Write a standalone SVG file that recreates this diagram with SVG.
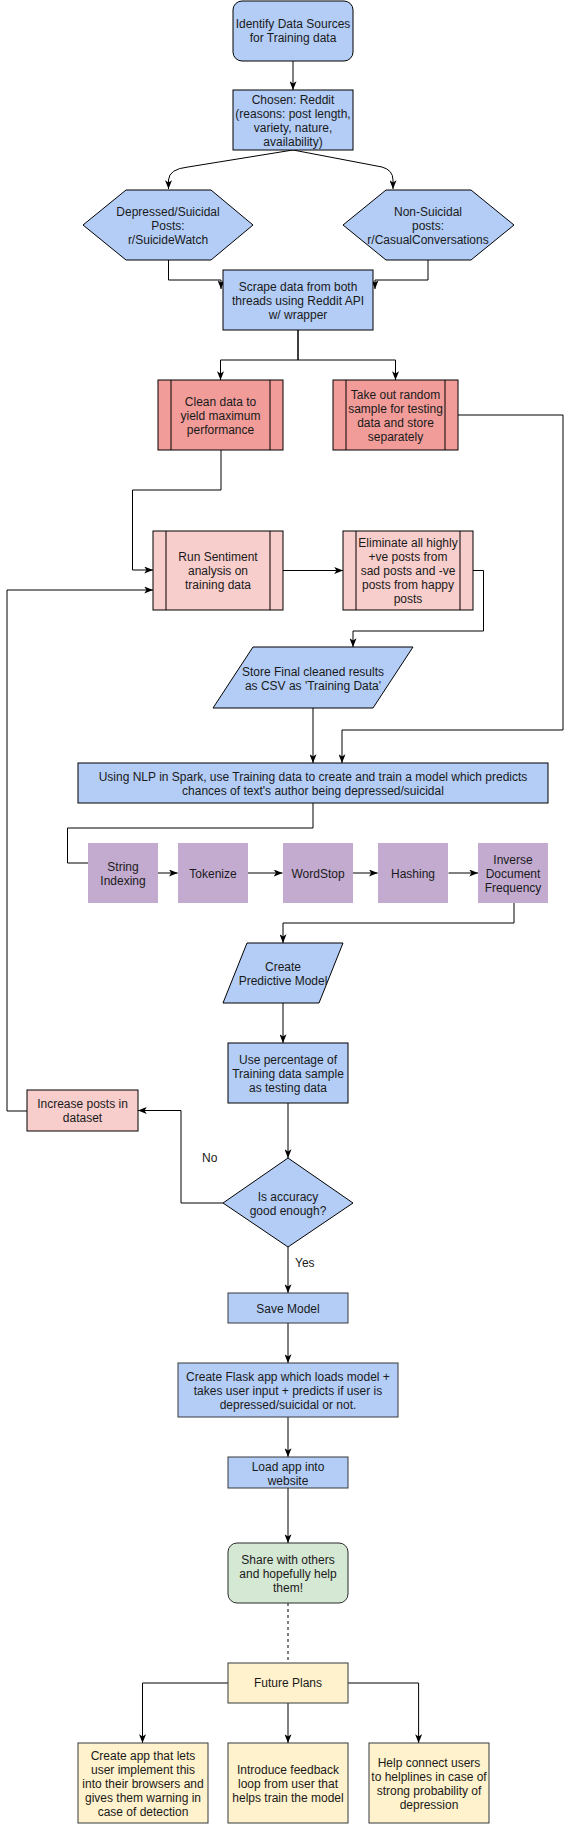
<svg xmlns="http://www.w3.org/2000/svg" width="571" height="1824" viewBox="0 0 571 1824">
<style>
text{font-family:"Liberation Sans",Arial,Helvetica,sans-serif;font-size:12px;fill:#1a1a1a;text-anchor:middle}
.lbl{text-anchor:start}
.blue{fill:#B3CDF7;stroke:#000;stroke-width:1}
.red{fill:#F19C99;stroke:#000;stroke-width:1}
.pink{fill:#F8CECC;stroke:#000;stroke-width:1}
.purple{fill:#C3ABD0;stroke:none}
.green{fill:#D5E8D4;stroke:#2b2b2b;stroke-width:1}
.yellow{fill:#FFF2CC;stroke:#36393d;stroke-width:1}
.grey{stroke:#36393d}
.e{fill:none;stroke:#000;stroke-width:1}
.a{marker-end:url(#arr)}
.dash{stroke-dasharray:3,3}
</style>
<defs>
<marker id="arr" markerUnits="userSpaceOnUse" viewBox="0 0 10 8" refX="10" refY="4" markerWidth="9" markerHeight="7" orient="auto">
<path d="M0,0 L10,4 L0,8 L2.5,4 Z" fill="#000"/>
</marker>
</defs>
<rect width="571" height="1824" fill="#fff"/>
<g id="connectors">
<path class="e a" d="M293,61 V90"/>
<path class="e a" d="M293,150 L188,167 Q169,169 168.5,180 V189"/>
<path class="e a" d="M293,150 L382,167 Q393,170 393,180 V189"/>
<path class="e a" d="M168.5,260 V280 H221 V289"/>
<path class="e a" d="M428,260 V280 H375 V289"/>
<path class="e a" d="M298,330 V360 H220.5 V380"/>
<path class="e a" d="M298,330 V360 H395.5 V380"/>
<path class="e a" d="M458,415 H563 V730 H342 V763"/>
<path class="e a" d="M221,450 V490 H132.5 V570 H153"/>
<path class="e a" d="M27,1111 H7 V590 H153"/>
<path class="e a" d="M283,570.5 H343"/>
<path class="e a" d="M473,570.5 H483.5 V631 H353 V647"/>
<path class="e a" d="M313,708 V763"/>
<path class="e" d="M313,803 V828 H67.5 V863 H88"/>
<path class="e a" d="M158,873 H177.7"/>
<path class="e a" d="M248,873 H282.5"/>
<path class="e a" d="M353,873 H377.7"/>
<path class="e a" d="M448.5,873 H478"/>
<path class="e a" d="M514,903 V923 H283 V943"/>
<path class="e a" d="M283,1003 V1043"/>
<path class="e a" d="M288,1103 V1158"/>
<path class="e a" d="M223,1203 H181 V1110.5 H138"/>
<path class="e a" d="M288,1247 V1293"/>
<path class="e a" d="M288,1323 V1363"/>
<path class="e a" d="M288,1417 V1457"/>
<path class="e a" d="M288,1488 V1543"/>
<path class="e dash" d="M288,1603 V1663"/>
<path class="e a" d="M228,1683 H142.5 V1743"/>
<path class="e a" d="M288,1703 V1743"/>
<path class="e a" d="M348,1683 H418.6 V1743"/>
<text class="lbl" x="202" y="1162">No</text>
<text class="lbl" x="295" y="1267">Yes</text>
</g>
<g id="n-identify">
<rect class="blue" x="233" y="1" width="120" height="60" rx="9"/>
<text x="293" y="28">Identify Data Sources</text>
<text x="293" y="42">for Training data</text>
</g>
<g id="n-chosen">
<rect class="blue" x="233" y="90" width="120" height="60"/>
<text x="293" y="104">Chosen: Reddit</text>
<text x="293" y="118">(reasons: post length,</text>
<text x="293" y="132">variety, nature,</text>
<text x="293" y="146">availability)</text>
</g>
<g id="n-depressed">
<polygon class="blue" points="83,225 126,190 211,190 253,225 211,260 126,260"/>
<text x="168" y="216">Depressed/Suicidal</text>
<text x="168" y="230">Posts:</text>
<text x="168" y="244">r/SuicideWatch</text>
</g>
<g id="n-nonsuicidal">
<polygon class="blue" points="343,225 386,190 471,190 514,225 471,260 386,260"/>
<text x="428" y="216">Non-Suicidal</text>
<text x="428" y="230">posts:</text>
<text x="428" y="244">r/CasualConversations</text>
</g>
<g id="n-scrape">
<rect class="blue" x="223" y="270" width="150" height="60"/>
<text x="298" y="291">Scrape data from both</text>
<text x="298" y="305">threads using Reddit API</text>
<text x="298" y="319">w/ wrapper</text>
</g>
<g id="n-clean">
<rect class="red" x="158" y="380" width="125" height="70"/>
<path class="e" d="M171,380 V450 M270,380 V450"/>
<text x="220.5" y="406">Clean data to</text>
<text x="220.5" y="420">yield maximum</text>
<text x="220.5" y="434">performance</text>
</g>
<g id="n-sample">
<rect class="red" x="333" y="380" width="125" height="70"/>
<path class="e" d="M346,380 V450 M445,380 V450"/>
<text x="395.5" y="399">Take out random</text>
<text x="395.5" y="413">sample for testing</text>
<text x="395.5" y="427">data and store</text>
<text x="395.5" y="441">separately</text>
</g>
<g id="n-sentiment">
<rect class="pink" x="153" y="531" width="130" height="79"/>
<path class="e" d="M166,531 V610 M270,531 V610"/>
<text x="218" y="561">Run Sentiment</text>
<text x="218" y="575">analysis on</text>
<text x="218" y="589">training data</text>
</g>
<g id="n-eliminate">
<rect class="pink" x="343" y="531" width="130" height="79"/>
<path class="e" d="M356,531 V610 M460,531 V610"/>
<text x="408" y="547">Eliminate all highly</text>
<text x="408" y="561">+ve posts from</text>
<text x="408" y="575">sad posts and -ve</text>
<text x="408" y="589">posts from happy</text>
<text x="408" y="603">posts</text>
</g>
<g id="n-store">
<polygon class="blue" points="253,647 413,647 373,708 213,708"/>
<text x="313" y="676">Store Final cleaned results</text>
<text x="313" y="690">as CSV as 'Training Data'</text>
</g>
<g id="n-nlp">
<rect class="blue" x="78" y="763" width="470" height="40"/>
<text x="313" y="781">Using NLP in Spark, use Training data to create and train a model which predicts</text>
<text x="313" y="795">chances of text's author being depressed/suicidal</text>
</g>
<g id="n-stringindex">
<rect class="purple" x="88" y="843" width="70" height="60"/>
<text x="123" y="871">String</text>
<text x="123" y="885">Indexing</text>
</g>
<g id="n-tokenize">
<rect class="purple" x="178" y="843" width="70" height="60"/>
<text x="213" y="878">Tokenize</text>
</g>
<g id="n-wordstop">
<rect class="purple" x="283" y="843" width="70" height="60"/>
<text x="318" y="878">WordStop</text>
</g>
<g id="n-hashing">
<rect class="purple" x="378" y="843" width="70" height="60"/>
<text x="413" y="878">Hashing</text>
</g>
<g id="n-idf">
<rect class="purple" x="478" y="843" width="70" height="60"/>
<text x="513" y="864">Inverse</text>
<text x="513" y="878">Document</text>
<text x="513" y="892">Frequency</text>
</g>
<g id="n-predictive">
<polygon class="blue" points="247,943 343,943 319,1003 223,1003"/>
<text x="283" y="971">Create</text>
<text x="283" y="985">Predictive Model</text>
</g>
<g id="n-percentage">
<rect class="blue" x="228" y="1043" width="120" height="60"/>
<text x="288" y="1064">Use percentage of</text>
<text x="288" y="1078">Training data sample</text>
<text x="288" y="1092">as testing data</text>
</g>
<g id="n-increase">
<rect class="pink" x="27" y="1090" width="111" height="41"/>
<text x="82.5" y="1108">Increase posts in</text>
<text x="82.5" y="1122">dataset</text>
</g>
<g id="n-accuracy">
<polygon class="blue" points="288,1158 353,1203 288,1247 223,1203"/>
<text x="288" y="1201">Is accuracy</text>
<text x="288" y="1215">good enough?</text>
</g>
<g id="n-save">
<rect class="blue grey" x="228" y="1293" width="120" height="30"/>
<text x="288" y="1313">Save Model</text>
</g>
<g id="n-flask">
<rect class="blue grey" x="178" y="1363" width="220" height="54"/>
<text x="288" y="1381">Create Flask app which loads model +</text>
<text x="288" y="1395">takes user input + predicts if user is</text>
<text x="288" y="1409">depressed/suicidal or not.</text>
</g>
<g id="n-load">
<rect class="blue grey" x="228" y="1457" width="120" height="31"/>
<text x="288" y="1471">Load app into</text>
<text x="288" y="1485">website</text>
</g>
<g id="n-share">
<rect class="green" x="228" y="1543" width="120" height="60" rx="9"/>
<text x="288" y="1564">Share with others</text>
<text x="288" y="1578">and hopefully help</text>
<text x="288" y="1592">them!</text>
</g>
<g id="n-future">
<rect class="yellow" x="228" y="1663" width="120" height="40"/>
<text x="288" y="1687">Future Plans</text>
</g>
<g id="n-app">
<rect class="yellow" x="78" y="1743" width="130" height="80"/>
<text x="143" y="1760">Create app that lets</text>
<text x="143" y="1774">user implement this</text>
<text x="143" y="1788">into their browsers and</text>
<text x="143" y="1802">gives them warning in</text>
<text x="143" y="1816">case of detection</text>
</g>
<g id="n-feedback">
<rect class="yellow" x="228" y="1743" width="120" height="80"/>
<text x="288" y="1774">Introduce feedback</text>
<text x="288" y="1788">loop from user that</text>
<text x="288" y="1802">helps train the model</text>
</g>
<g id="n-helplines">
<rect class="yellow" x="369" y="1743" width="120" height="80"/>
<text x="429" y="1767">Help connect users</text>
<text x="429" y="1781">to helplines in case of</text>
<text x="429" y="1795">strong probability of</text>
<text x="429" y="1809">depression</text>
</g>
</svg>
